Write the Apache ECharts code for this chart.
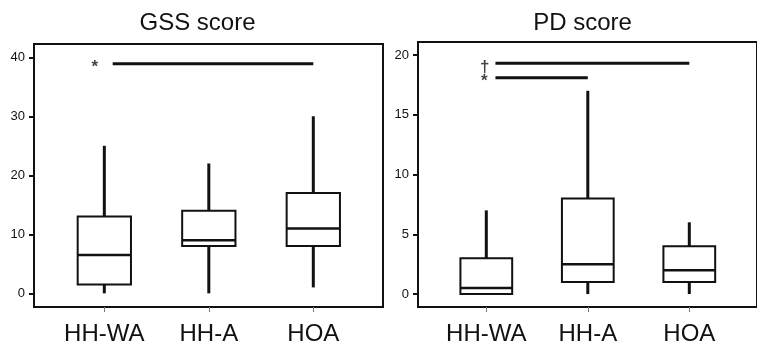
<!DOCTYPE html>
<html>
<head>
<meta charset="utf-8">
<script src="https://cdn.jsdelivr.net/npm/echarts@6/dist/echarts.min.js"></script>
<style>
  html, body { margin: 0; padding: 0; background: #fff; }
  #chart { width: 757px; height: 346px; }
</style>
</head>
<body>
<div id="chart"></div>
<script>
// groups on the x axis
var groups = ['HH-WA', 'HH-A', 'HOA'];
var groupPos = [1, 2, 3];

// box stats: [pos, min, Q1, median, Q3, max]
var gssBoxes = [
    [1, 0, 1.5, 6.5, 13, 25],
    [2, 0, 8, 9, 14, 22],
    [3, 1, 8, 11, 17, 30]
];
var pdBoxes = [
    [1, 0, 0, 0.5, 3, 7],
    [2, 0, 1, 2.5, 8, 17],
    [3, 0, 1, 2, 4, 6]
];

var gssTicks = [0, 10, 20, 30, 40];
var pdTicks = [0, 5, 10, 15, 20];

// significance bars: [from, to, y] and mark [x, y, text]
var gssSigLines = [[1.08, 3, 38.9]];
var gssSigMarks = [[0.91, 38.9, '*']];
var pdSigLines = [[1.09, 3, 19.3], [1.09, 2, 18.1]];
var pdSigMarks = [[0.985, 19.3, '†'], [0.98, 18.1, '*']];

var font = 'Liberation Sans, Arial, sans-serif';
var ink = '#111';

function renderBox(params, api) {
    var x = api.value(0);
    var lo = api.coord([x, api.value(1)]);
    var q1 = api.coord([x, api.value(2)]);
    var med = api.coord([x, api.value(3)]);
    var q3 = api.coord([x, api.value(4)]);
    var hi = api.coord([x, api.value(5)]);
    var half = api.size([1, 0])[0] * 0.255;
    var cx = lo[0];
    return {
        type: 'group',
        children: [
            { type: 'line', shape: { x1: cx, y1: hi[1], x2: cx, y2: q3[1] }, style: { stroke: ink, lineWidth: 3 } },
            { type: 'line', shape: { x1: cx, y1: q1[1], x2: cx, y2: lo[1] }, style: { stroke: ink, lineWidth: 3 } },
            { type: 'rect', shape: { x: cx - half, y: q3[1], width: half * 2, height: q1[1] - q3[1] },
              style: { fill: '#fff', stroke: ink, lineWidth: 2 } },
            { type: 'line', shape: { x1: cx - half, y1: med[1], x2: cx + half, y2: med[1] }, style: { stroke: ink, lineWidth: 2.5 } }
        ]
    };
}

function xAxisFor(gi) {
    return {
        type: 'value', gridIndex: gi, min: 0.327, max: 3.667,
        splitLine: { show: false },
        axisLine: { show: false, onZero: false },
        axisTick: { show: true, customValues: groupPos, length: 5, lineStyle: { color: '#777', width: 1 } },
        axisLabel: {
            customValues: groupPos, margin: 15,
            fontFamily: font, fontSize: 24, color: ink,
            formatter: function (v) { return groups[Math.round(v) - 1]; }
        }
    };
}

function yAxisFor(gi, lo, hi, ticks) {
    return {
        type: 'value', gridIndex: gi, min: lo, max: hi,
        splitLine: { show: false },
        axisLine: { show: false, onZero: false },
        axisTick: { show: true, customValues: ticks, length: 5, lineStyle: { color: ink, width: 2 } },
        axisLabel: { customValues: ticks, margin: 9, fontFamily: font, fontSize: 13, color: '#111' }
    };
}

function sigSeries(gi, lines, marks) {
    var out = [];
    lines.forEach(function (l) {
        out.push({
            type: 'line', xAxisIndex: gi, yAxisIndex: gi,
            data: [[l[0], l[2]], [l[1], l[2]]],
            showSymbol: false, silent: true,
            lineStyle: { color: ink, width: 3 }
        });
    });
    out.push({
        type: 'scatter', xAxisIndex: gi, yAxisIndex: gi,
        symbolSize: 0, silent: true,
        data: marks.map(function (m) { return { value: [m[0], m[1]], name: m[2] }; }),
        label: {
            show: true, position: 'inside', formatter: '{b}',
            fontFamily: font, fontSize: 17, fontWeight: 'bold', color: ink, offset: [0, 4]
        }
    });
    return out;
}

var dom = document.getElementById('chart');
var myChart = echarts.init(dom, null, { renderer: 'canvas' });

var option = {
    backgroundColor: '#fff',
    animation: false,
    title: [
        { text: 'GSS score', left: 197.5, top: 11, textAlign: 'center', padding: 0,
          textStyle: { fontFamily: font, fontSize: 24, fontWeight: 'normal', color: ink } },
        { text: 'PD score', left: 582.5, top: 11, textAlign: 'center', padding: 0,
          textStyle: { fontFamily: font, fontSize: 24, fontWeight: 'normal', color: ink } }
    ],
    grid: [
        { left: 34, top: 44, width: 349, height: 263, show: true, borderColor: ink, borderWidth: 2, backgroundColor: 'transparent' },
        { left: 418, top: 42, width: 349, height: 266, show: true, borderColor: ink, borderWidth: 2, backgroundColor: 'transparent' }
    ],
    xAxis: [xAxisFor(0), xAxisFor(1)],
    yAxis: [
        yAxisFor(0, -2.32, 42.25, gssTicks),
        yAxisFor(1, -1.083, 21.083, pdTicks)
    ],
    series: [
        { type: 'custom', xAxisIndex: 0, yAxisIndex: 0, renderItem: renderBox,
          encode: { x: 0, y: [1, 2, 3, 4, 5] }, data: gssBoxes },
        { type: 'custom', xAxisIndex: 1, yAxisIndex: 1, renderItem: renderBox,
          encode: { x: 0, y: [1, 2, 3, 4, 5] }, data: pdBoxes }
    ].concat(sigSeries(0, gssSigLines, gssSigMarks), sigSeries(1, pdSigLines, pdSigMarks))
};

myChart.setOption(option);
</script>
</body>
</html>
